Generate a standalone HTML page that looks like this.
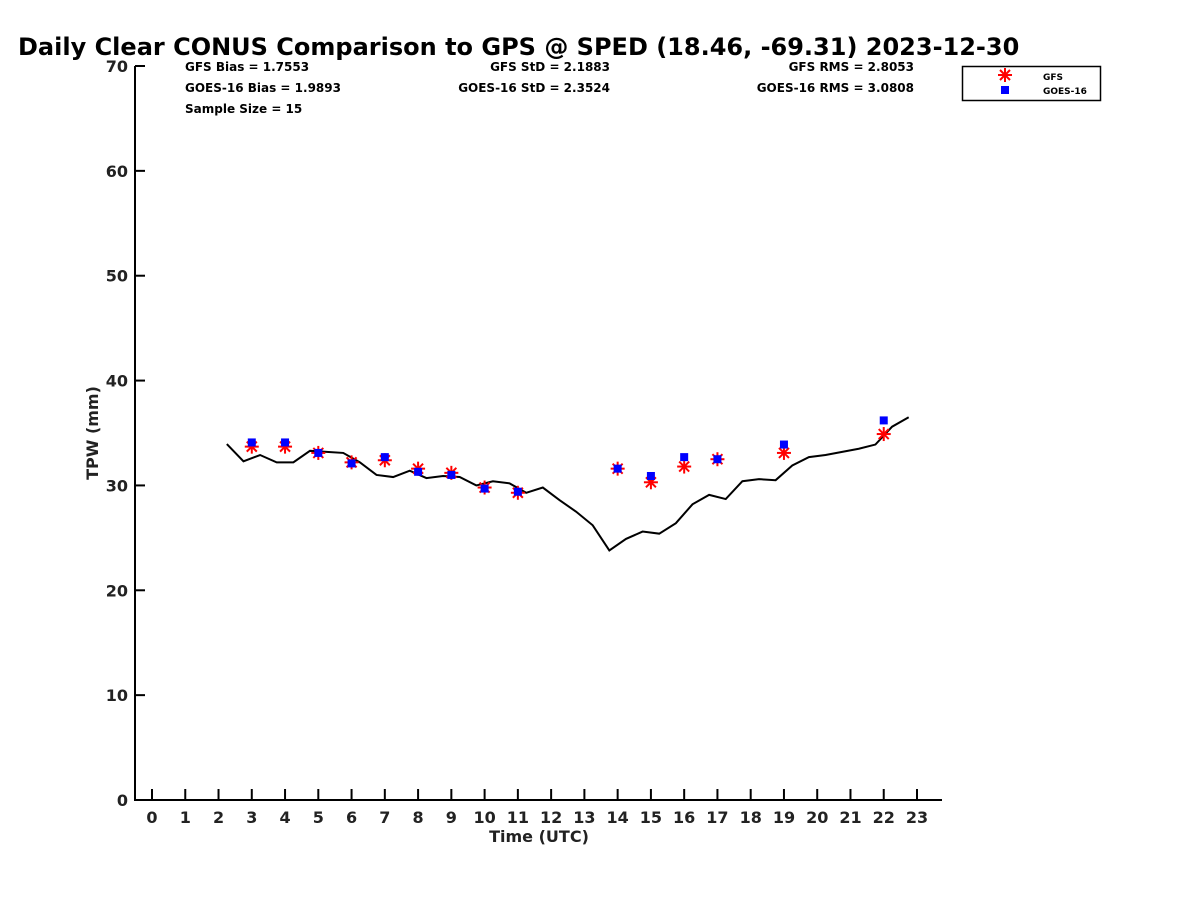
<!DOCTYPE html>
<html><head><meta charset="utf-8"><style>
body{margin:0;background:#fff;}
svg{font-family:"DejaVu Sans","Liberation Sans",sans-serif;font-weight:bold;}
</style></head><body>
<svg id="chart" width="1200" height="900" xmlns="http://www.w3.org/2000/svg">
<text x="18" y="55" font-size="24" fill="#000">Daily Clear CONUS Comparison to GPS @ SPED (18.46, -69.31) 2023-12-30</text>
<g font-size="12" fill="#000">
<text x="185" y="71">GFS Bias = 1.7553</text>
<text x="185" y="92">GOES-16 Bias = 1.9893</text>
<text x="185" y="113">Sample Size = 15</text>
<text x="610" y="71" text-anchor="end">GFS StD = 2.1883</text>
<text x="610" y="92" text-anchor="end">GOES-16 StD = 2.3524</text>
<text x="914" y="71" text-anchor="end">GFS RMS = 2.8053</text>
<text x="914" y="92" text-anchor="end">GOES-16 RMS = 3.0808</text>
</g>
<g>
<rect x="962.5" y="66.5" width="138" height="34" fill="#fff" stroke="#000" stroke-width="1.5"/>
<g stroke="red" stroke-width="2"><line x1="998" y1="75" x2="1012" y2="75"/><line x1="1005" y1="68" x2="1005" y2="82"/><line x1="1000" y1="70" x2="1010" y2="80"/><line x1="1000" y1="80" x2="1010" y2="70"/></g>
<rect x="1001" y="86" width="8" height="8" fill="blue"/>
<text x="1043" y="80" font-size="9">GFS</text>
<text x="1043" y="94" font-size="9">GOES-16</text>
</g>
<g id="axes"></g>
<g id="marks"></g>
</svg>
<script>
const gpsHours=[2.25,2.75,3.25,3.75,4.25,4.75,5.25,5.75,6.25,6.75,7.25,7.75,8.25,8.75,9.25,9.75,10.25,10.75,11.25,11.75,12.25,12.75,13.25,13.75,14.25,14.75,15.25,15.75,16.25,16.75,17.25,17.75,18.25,18.75,19.25,19.75,20.25,20.75,21.25,21.75,22.25,22.75];
const gpsValues=[33.95,32.3,32.9,32.2,32.2,33.3,33.2,33.1,32.2,31.0,30.8,31.4,30.7,30.9,30.8,30.0,30.4,30.2,29.3,29.8,28.6,27.5,26.2,23.8,24.9,25.6,25.4,26.4,28.2,29.1,28.7,30.4,30.6,30.5,31.9,32.7,32.9,33.2,33.5,33.9,35.6,36.5];
const sampleHours=[3,4,5,6,7,8,9,10,11,14,15,16,17,19,22];
const gfsValues=[33.7,33.7,33.1,32.2,32.4,31.6,31.2,29.8,29.3,31.6,30.3,31.8,32.5,33.1,34.9];
const goesValues=[34.1,34.1,33.1,32.1,32.7,31.3,31.0,29.7,29.4,31.6,30.9,32.7,32.5,33.9,36.2];
const yTicks=[0,10,20,30,40,50,60,70];
const xTicks=[0,1,2,3,4,5,6,7,8,9,10,11,12,13,14,15,16,17,18,19,20,21,22,23];

const NS="http://www.w3.org/2000/svg";
const X=h=>152+h*(917-152)/23;
const Y=v=>800-v*(800-66)/70;
function mk(tag,attrs,parent){const e=document.createElementNS(NS,tag);for(const k in attrs)e.setAttribute(k,attrs[k]);parent.appendChild(e);return e;}
const axes=document.getElementById('axes'),marks=document.getElementById('marks');

const yAxis=mk('line',{x1:135,y1:66,x2:135,y2:801,stroke:'#000','stroke-width':2},axes);


const xAxis=mk('line',{x1:134,y1:800,x2:942,y2:800,stroke:'#000','stroke-width':2},axes);


yTicks.forEach(v=>{
  const t=mk('line',{x1:135,y1:Y(v),x2:145,y2:Y(v),stroke:'#000','stroke-width':2},axes);
  
  
  const l=mk('text',{x:128,y:Y(v)+6,'text-anchor':'end','font-size':16,fill:'#222'},axes);l.textContent=v;
  
  
});
xTicks.forEach(h=>{
  const t=mk('line',{x1:X(h),y1:800,x2:X(h),y2:789,stroke:'#000','stroke-width':2},axes);
  
  
  const l=mk('text',{x:X(h),y:823,'text-anchor':'middle','font-size':16,fill:'#222'},axes);l.textContent=h;
  
  
});
const xt=mk('text',{x:539,y:842,'text-anchor':'middle','font-size':16,fill:'#222'},axes);xt.textContent='Time (UTC)';


const yt=mk('text',{x:0,y:0,'text-anchor':'middle','font-size':16,fill:'#222',transform:'translate(98,433) rotate(-90)'},axes);yt.textContent='TPW (mm)';



const line=mk('polyline',{points:gpsHours.map((h,i)=>X(h)+','+Y(gpsValues[i])).join(' '),fill:'none',stroke:'#000','stroke-width':2},marks);


sampleHours.forEach((h,i)=>{
  const cx=X(h),cy=Y(gfsValues[i]);
  const g=mk('g',{stroke:'red','stroke-width':2},marks);
  
  
  mk('line',{x1:cx-7,y1:cy,x2:cx+7,y2:cy},g);
  mk('line',{x1:cx,y1:cy-7,x2:cx,y2:cy+7},g);
  mk('line',{x1:cx-5,y1:cy-5,x2:cx+5,y2:cy+5},g);
  mk('line',{x1:cx-5,y1:cy+5,x2:cx+5,y2:cy-5},g);
});
sampleHours.forEach((h,i)=>{
  const r=mk('rect',{x:X(h)-4,y:Y(goesValues[i])-4,width:8,height:8,fill:'blue'},marks);
  
  
});
</script>
</body></html>
